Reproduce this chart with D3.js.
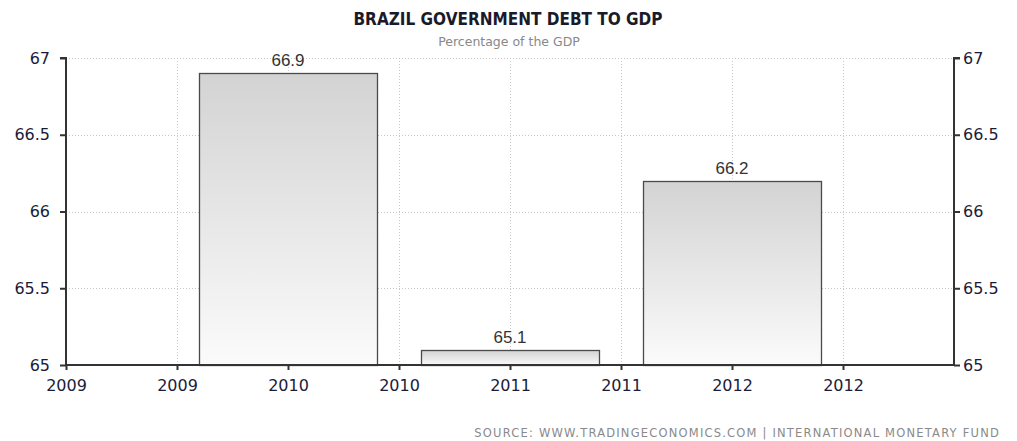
<!DOCTYPE html>
<html>
<head>
<meta charset="utf-8">
<script src="https://cdn.jsdelivr.net/npm/d3@7"></script>
<style>
  body { margin: 0; background: #fff; }
  svg { display: block; }
</style>
</head>
<body>
<svg id="chart" width="1017" height="441"></svg>
<script>
// Brazil government debt to GDP, percent
const years = ["2010", "2011", "2012"];
const debtValues = [66.9, 65.1, 66.2];
const barSlots = [2, 4, 6];           // position of each bar on the tick grid
const xTickLabels = ["2009", "2009", "2010", "2010", "2011", "2011", "2012", "2012"];
const yTickValues = [65, 65.5, 66, 66.5, 67];

const svg = d3.select("#chart");
const plot = { left: 66, right: 954, top: 58, bottom: 365 };

const x = d3.scaleLinear().domain([0, 8]).range([plot.left, plot.right]);
const y = d3.scaleLinear().domain([65, 67]).range([plot.bottom, plot.top]);

// gradient fill for bars
const defs = svg.append("defs");
const grad = defs.append("linearGradient").attr("id", "barFill")
  .attr("x1", 0).attr("y1", 0).attr("x2", 0).attr("y2", 1);
grad.append("stop").attr("offset", "0%").attr("stop-color", "#d3d3d3");
grad.append("stop").attr("offset", "100%").attr("stop-color", "#fbfbfb");

// grid
const grid = svg.append("g").attr("stroke", "#c8c8c8").attr("stroke-dasharray", "1,2").attr("stroke-width", 1);
grid.selectAll("line.h").data(yTickValues).join("line").attr("class", "h")
  .attr("x1", plot.left).attr("x2", plot.right)
  .attr("y1", d => Math.round(y(d)) + 0.5).attr("y2", d => Math.round(y(d)) + 0.5);
grid.selectAll("line.v").data(d3.range(1, 8)).join("line").attr("class", "v")
  .attr("y1", plot.top).attr("y2", plot.bottom)
  .attr("x1", d => Math.round(x(d)) + 0.5).attr("x2", d => Math.round(x(d)) + 0.5);

// bars
const barW = x(1.6) - x(0);
svg.append("g").selectAll("rect").data(debtValues).join("rect")
  .attr("x", (d, i) => Math.round(x(barSlots[i]) - barW / 2) + 0.5)
  .attr("y", d => Math.round(y(d)) + 0.5)
  .attr("width", Math.round(barW))
  .attr("height", d => Math.round(y(65)) - Math.round(y(d)))
  .attr("fill", "url(#barFill)")
  .attr("stroke", "#4a4a4a").attr("stroke-width", 1.3);

// value labels
svg.append("g").selectAll("text").data(debtValues).join("text")
  .attr("x", (d, i) => x(barSlots[i]))
  .attr("y", d => y(d) - 7)
  .attr("text-anchor", "middle")
  .attr("font-family", "Liberation Sans Narrow, Liberation Sans, Arial, sans-serif")
  .attr("font-size", 17).attr("fill", "#333")
  .text(d => d.toFixed(1));

// axes
const tickFont = "DejaVu Sans, Verdana, sans-serif";
const yLeft = svg.append("g").attr("transform", `translate(${plot.left},0)`)
  .call(d3.axisLeft(y).tickValues(yTickValues).tickSize(6).tickPadding(10).tickFormat(d3.format("")));
const yRight = svg.append("g").attr("transform", `translate(${plot.right},0)`)
  .call(d3.axisRight(y).tickValues(yTickValues).tickSize(6).tickPadding(3).tickFormat(d3.format("")));
const xAxis = svg.append("g").attr("transform", `translate(0,${plot.bottom})`)
  .call(d3.axisBottom(x).tickValues(d3.range(0, 8)).tickSize(5).tickPadding(10)
    .tickFormat(i => xTickLabels[i]));

[yLeft, yRight, xAxis].forEach(g => {
  g.select(".domain").attr("stroke", "#333").attr("stroke-width", 2);
  g.selectAll(".tick line").attr("stroke", "#333").attr("stroke-width", 2);
  g.selectAll(".tick text").attr("font-family", tickFont).attr("font-size", 16).attr("fill", "#1c1c3a");
});
yLeft.select(".domain").attr("d", `M-6,${plot.top}H0V${plot.bottom}`);
yRight.select(".domain").attr("d", `M6,${plot.top}H0V${plot.bottom}`);
xAxis.select(".domain").attr("d", `M${plot.left},0H${plot.right}`);

// titles
svg.append("text").attr("x", 508).attr("y", 25).attr("text-anchor", "middle")
  .attr("font-family", "DejaVu Sans Condensed, DejaVu Sans, sans-serif").attr("font-weight", "bold")
  .attr("font-size", 17).attr("fill", "#1a1a2a")
  .text("BRAZIL GOVERNMENT DEBT TO GDP");
svg.append("text").attr("x", 509).attr("y", 46).attr("text-anchor", "middle")
  .attr("font-family", "DejaVu Sans, sans-serif").attr("font-size", 12.5).attr("fill", "#888")
  .text("Percentage of the GDP");

svg.append("text").attr("x", 1000).attr("y", 437).attr("text-anchor", "end")
  .attr("font-family", "DejaVu Sans, sans-serif").attr("font-size", 11.5).attr("fill", "#8a8a8a")
  .attr("letter-spacing", 1.2)
  .text("SOURCE:  WWW.TRADINGECONOMICS.COM  |  INTERNATIONAL MONETARY FUND");
</script>
</body>
</html>
